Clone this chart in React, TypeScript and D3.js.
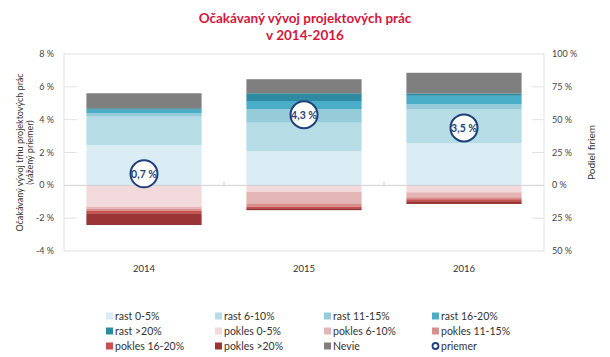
import React from "react";
import * as d3 from "d3";

const years = ["2014", "2015", "2016"];
const rast05 = [30.7, 26.1, 32.0];
const rast610 = [21.6, 21.6, 26.1];
const rast1115 = [2.6, 10.4, 3.8];
const rast1620 = [2.7, 6.1, 6.3];
const rast20 = [1.1, 5.9, 1.8];
const nevie = [11.4, 10.7, 15.7];
const pokles05 = [16.3, 5.1, 5.3];
const pokles610 = [1.5, 9.1, 3.8];
const pokles1115 = [1.5, 2.0, 1.5];
const pokles1620 = [2.0, 1.2, 1.5];
const pokles20 = [8.9, 1.5, 2.1];
const priemer = [0.7, 4.3, 3.5];
const priemerLabels = ["0,7 %", "4,3 %", "3,5 %"];

const leftTicks = [8, 6, 4, 2, 0, -2, -4];
const rightTicks = [100, 75, 50, 25, 0, -25, -50];

const seriesDefs = [
  { key: "rast 0-5%", values: rast05, sign: 1, color: "#daedf4" },
  { key: "rast 6-10%", values: rast610, sign: 1, color: "#b6dde6" },
  { key: "rast 11-15%", values: rast1115, sign: 1, color: "#96cbd9" },
  { key: "rast 16-20%", values: rast1620, sign: 1, color: "#4aaec8" },
  { key: "rast >20%", values: rast20, sign: 1, color: "#2e8aa0" },
  { key: "pokles 0-5%", values: pokles05, sign: -1, color: "#f2d9dc" },
  { key: "pokles 6-10%", values: pokles610, sign: -1, color: "#e3b5b5" },
  { key: "pokles 11-15%", values: pokles1115, sign: -1, color: "#d8908d" },
  { key: "pokles 16-20%", values: pokles1620, sign: -1, color: "#c85150" },
  { key: "pokles >20%", values: pokles20, sign: -1, color: "#9b3434" },
  { key: "Nevie", values: nevie, sign: 1, color: "#7f7f7f" },
];

const FONT = "Lato, 'Open Sans', sans-serif";

export default function App() {
  const W = 610, H = 357;
  const left = 64, right = 544, top = 54, bottom = 251;
  const x = d3.scaleBand<string>().domain(years).range([left, right]).paddingInner(0.28).paddingOuter(0.14);
  const yL = d3.scaleLinear().domain([-4, 8]).range([bottom, top]);
  const yR = d3.scaleLinear().domain([-50, 100]).range([bottom, top]);

  const table = years.map((yr, i) => {
    const row: any = { year: yr };
    seriesDefs.forEach((s) => (row[s.key] = s.sign * s.values[i]));
    return row;
  });
  const stacked = d3
    .stack<any>()
    .keys(seriesDefs.map((s) => s.key))
    .offset(d3.stackOffsetDiverging)(table);

  const legendCols = [106, 215, 324, 432];
  const legendRows = [316, 331, 346];
  const legendItems = [
    ...seriesDefs.map((s) => ({ label: s.key, color: s.color, circle: false })),
    { label: "priemer", color: "#1f3f7a", circle: true },
  ];

  const textColor = "#444";
  const midY = (top + bottom) / 2;

  return (
    <svg width={W} height={H} style={{ position: "absolute", left: 0, top: 0, background: "#fff" }} fontFamily={FONT}>
      {/* title */}
      <text x={305} y={23} textAnchor="middle" fill="#d4163c" fontSize={13.5} fontWeight={700}>
        Očakávaný vývoj projektových prác
      </text>
      <text x={305} y={40} textAnchor="middle" fill="#d4163c" fontSize={13.5} fontWeight={700}>
        v 2014-2016
      </text>

      {/* plot border */}
      <rect x={left} y={top} width={right - left} height={bottom - top} fill="none" stroke="#e2e2e2" strokeWidth={1} />

      {/* left ticks */}
      {leftTicks.map((t) => (
        <g key={"l" + t}>
          {t !== 8 && t !== -4 && t !== 0 && (
            <line x1={left} x2={left + 13} y1={yL(t)} y2={yL(t)} stroke="#e2e2e2" />
          )}
          <text x={54} y={yL(t)} dy="0.35em" textAnchor="end" fontSize={9} fill={textColor}>
            {t + " %"}
          </text>
        </g>
      ))}
      {/* right ticks */}
      {rightTicks.map((t) => (
        <g key={"r" + t}>
          {t !== 100 && t !== -50 && t !== 0 && (
            <line x1={right - 12} x2={right} y1={yR(t)} y2={yR(t)} stroke="#e2e2e2" />
          )}
          <text x={552} y={yR(t)} dy="0.35em" textAnchor="start" fontSize={9} fill={textColor}>
            {Math.abs(t) + " %"}
          </text>
        </g>
      ))}

      {/* bars */}
      {stacked.map((layer, li) => (
        <g key={layer.key} fill={seriesDefs[li].color}>
          {layer.map((d, i) => {
            const y0 = yR(d[0]);
            const y1 = yR(d[1]);
            return (
              <rect
                key={i}
                x={x(years[i])!}
                width={x.bandwidth()}
                y={Math.min(y0, y1)}
                height={Math.abs(y1 - y0)}
              />
            );
          })}
        </g>
      ))}

      {/* zero line */}
      <line x1={left} x2={right} y1={yL(0)} y2={yL(0)} stroke="#cfcfcf" strokeWidth={1} />
      {/* category separators */}
      {years.slice(1).map((yr) => {
        const xx = x(yr)! - (x.step() - x.bandwidth()) / 2;
        return <line key={"sep" + yr} x1={xx} x2={xx} y1={yL(0) - 4} y2={yL(0)} stroke="#cfcfcf" />;
      })}

      {/* average circles */}
      {years.map((yr, i) => {
        const cx = x(yr)! + x.bandwidth() / 2;
        const cy = yL(priemer[i]);
        return (
          <g key={"avg" + yr}>
            <circle cx={cx} cy={cy} r={13.5} fill="#fff" stroke="#1f3f7a" strokeWidth={2} />
            <text x={cx} y={cy} dy="0.36em" textAnchor="middle" fontSize={10.5} fontWeight={700} fill="#1f3f7a">
              {priemerLabels[i]}
            </text>
          </g>
        );
      })}

      {/* category labels */}
      {years.map((yr) => (
        <text key={"c" + yr} x={x(yr)! + x.bandwidth() / 2} y={269} dy="0.35em" textAnchor="middle" fontSize={9.5} fill="#333">
          {yr}
        </text>
      ))}

      {/* axis titles */}
      <text transform={`translate(20,${midY}) rotate(-90)`} textAnchor="middle" fontSize={9} fill="#333" dy="0.35em">
        Očakávaný vývoj trhu projektových prác
      </text>
      <text transform={`translate(29.5,${midY}) rotate(-90)`} textAnchor="middle" fontSize={9} fill="#333" dy="0.35em">
        (vážený priemer)
      </text>
      <text transform={`translate(591,${midY}) rotate(-90)`} textAnchor="middle" fontSize={10} fill="#333" dy="0.35em">
        Podiel firiem
      </text>

      {/* legend */}
      {legendItems.map((it, i) => {
        const lx = legendCols[i % 4];
        const ly = legendRows[Math.floor(i / 4)];
        return (
          <g key={"lg" + i}>
            {it.circle ? (
              <circle cx={lx + 3.5} cy={ly} r={3} fill="#fff" stroke={it.color} strokeWidth={1.8} />
            ) : (
              <rect x={lx} y={ly - 3.5} width={7} height={7} fill={it.color} />
            )}
            <text x={lx + 9} y={ly} dy="0.35em" fontSize={10.5} fill="#333">
              {it.label}
            </text>
          </g>
        );
      })}
    </svg>
  );
}
